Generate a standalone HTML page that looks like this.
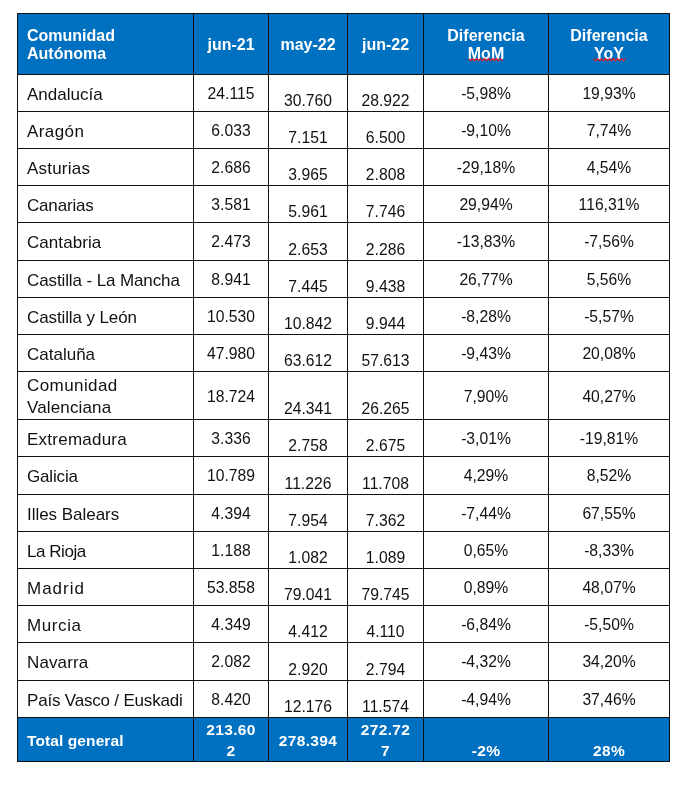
<!DOCTYPE html>
<html lang="es">
<head>
<meta charset="utf-8">
<title>Comunidad Autónoma</title>
<style>
html,body{margin:0;padding:0;background:#fff;}
body{width:690px;height:788px;position:relative;overflow:hidden;font-family:"Liberation Sans",sans-serif;color:#111;}
.a{position:absolute;}
.bg{position:absolute;background:#0070c0;}
.h{position:absolute;background:#111;height:1px;}
.v{position:absolute;background:#111;width:1px;}
.t{position:absolute;white-space:nowrap;font-size:17px;line-height:20px;height:20px;}
.n{position:absolute;white-space:nowrap;font-size:15.7px;line-height:20px;height:20px;text-align:center;}
.c{text-align:center;}
.hd{position:absolute;white-space:nowrap;font-weight:bold;font-size:16px;line-height:18px;color:#fff;}
.ft{position:absolute;white-space:nowrap;font-weight:bold;font-size:15.5px;line-height:21px;color:#fff;}
.fn{letter-spacing:.35px;}
</style>
</head>
<body>

<div class="bg" style="left:17px;top:13px;width:653px;height:61px"></div>
<div class="bg" style="left:17px;top:717px;width:653px;height:44px"></div>
<div class="h" style="left:17px;top:13px;width:653px"></div>
<div class="h" style="left:17px;top:74px;width:653px"></div>
<div class="h" style="left:17px;top:111px;width:653px"></div>
<div class="h" style="left:17px;top:148px;width:653px"></div>
<div class="h" style="left:17px;top:185px;width:653px"></div>
<div class="h" style="left:17px;top:222px;width:653px"></div>
<div class="h" style="left:17px;top:260px;width:653px"></div>
<div class="h" style="left:17px;top:297px;width:653px"></div>
<div class="h" style="left:17px;top:334px;width:653px"></div>
<div class="h" style="left:17px;top:371px;width:653px"></div>
<div class="h" style="left:17px;top:419px;width:653px"></div>
<div class="h" style="left:17px;top:456px;width:653px"></div>
<div class="h" style="left:17px;top:494px;width:653px"></div>
<div class="h" style="left:17px;top:531px;width:653px"></div>
<div class="h" style="left:17px;top:568px;width:653px"></div>
<div class="h" style="left:17px;top:605px;width:653px"></div>
<div class="h" style="left:17px;top:642px;width:653px"></div>
<div class="h" style="left:17px;top:680px;width:653px"></div>
<div class="h" style="left:17px;top:717px;width:653px"></div>
<div class="h" style="left:17px;top:761px;width:653px"></div>
<div class="v" style="left:17px;top:13px;height:749px"></div>
<div class="v" style="left:193px;top:13px;height:749px"></div>
<div class="v" style="left:268px;top:13px;height:749px"></div>
<div class="v" style="left:347px;top:13px;height:749px"></div>
<div class="v" style="left:423px;top:13px;height:749px"></div>
<div class="v" style="left:548px;top:13px;height:749px"></div>
<div class="v" style="left:669px;top:13px;height:749px"></div>
<div class="hd" style="left:27px;top:27px">Comunidad<br>Autónoma</div>
<div class="hd c" style="left:194px;width:74px;top:36px">jun-21</div>
<div class="hd c" style="left:269px;width:78px;top:36px">may-22</div>
<div class="hd c" style="left:348px;width:75px;top:36px">jun-22</div>
<div class="hd c" style="left:424px;width:124px;top:27px">Diferencia<br>MoM</div>
<div class="hd c" style="left:549px;width:120px;top:27px">Diferencia<br>YoY</div>
<svg class="a" style="left:0;top:0" width="690" height="70" viewBox="0 0 690 70"><polyline points="468.5,58.7 470.5,60.7 472.5,58.7 474.5,60.7 476.5,58.7 478.5,60.7 480.5,58.7 482.5,60.7 484.5,58.7 486.5,60.7 488.5,58.7 490.5,60.7 492.5,58.7 494.5,60.7 496.5,58.7 498.5,60.7 500.5,58.7 502.5,60.7" fill="none" stroke="#e0202c" stroke-width="1.25"/></svg>
<svg class="a" style="left:0;top:0" width="690" height="70" viewBox="0 0 690 70"><polyline points="593.5,58.7 595.5,60.7 597.5,58.7 599.5,60.7 601.5,58.7 603.5,60.7 605.5,58.7 607.5,60.7 609.5,58.7 611.5,60.7 613.5,58.7 615.5,60.7 617.5,58.7 619.5,60.7 621.5,58.7 623.5,60.7 625.5,58.7" fill="none" stroke="#e0202c" stroke-width="1.25"/></svg>
<div class="t" style="left:27px;top:85px">Andalucía</div>
<div class="n" style="left:194px;width:74px;top:84px">24.115</div>
<div class="n" style="left:269px;width:78px;top:91px">30.760</div>
<div class="n" style="left:348px;width:75px;top:91px">28.922</div>
<div class="n p" style="left:424px;width:124px;top:84px">-5,98%</div>
<div class="n p" style="left:549px;width:120px;top:84px">19,93%</div>
<div class="t" style="left:27px;top:122px;letter-spacing:0.42px">Aragón</div>
<div class="n" style="left:194px;width:74px;top:121px">6.033</div>
<div class="n" style="left:269px;width:78px;top:128px">7.151</div>
<div class="n" style="left:348px;width:75px;top:128px">6.500</div>
<div class="n p" style="left:424px;width:124px;top:121px">-9,10%</div>
<div class="n p" style="left:549px;width:120px;top:121px">7,74%</div>
<div class="t" style="left:27px;top:159px;letter-spacing:0.21px">Asturias</div>
<div class="n" style="left:194px;width:74px;top:158px">2.686</div>
<div class="n" style="left:269px;width:78px;top:165px">3.965</div>
<div class="n" style="left:348px;width:75px;top:165px">2.808</div>
<div class="n p" style="left:424px;width:124px;top:158px">-29,18%</div>
<div class="n p" style="left:549px;width:120px;top:158px">4,54%</div>
<div class="t" style="left:27px;top:196px;letter-spacing:-0.18px">Canarias</div>
<div class="n" style="left:194px;width:74px;top:195px">3.581</div>
<div class="n" style="left:269px;width:78px;top:202px">5.961</div>
<div class="n" style="left:348px;width:75px;top:202px">7.746</div>
<div class="n p" style="left:424px;width:124px;top:195px">29,94%</div>
<div class="n p" style="left:549px;width:120px;top:195px">116,31%</div>
<div class="t" style="left:27px;top:233px;letter-spacing:0.06px">Cantabria</div>
<div class="n" style="left:194px;width:74px;top:232px">2.473</div>
<div class="n" style="left:269px;width:78px;top:240px">2.653</div>
<div class="n" style="left:348px;width:75px;top:240px">2.286</div>
<div class="n p" style="left:424px;width:124px;top:232px">-13,83%</div>
<div class="n p" style="left:549px;width:120px;top:232px">-7,56%</div>
<div class="t" style="left:27px;top:271px;letter-spacing:-0.11px">Castilla - La Mancha</div>
<div class="n" style="left:194px;width:74px;top:270px">8.941</div>
<div class="n" style="left:269px;width:78px;top:277px">7.445</div>
<div class="n" style="left:348px;width:75px;top:277px">9.438</div>
<div class="n p" style="left:424px;width:124px;top:270px">26,77%</div>
<div class="n p" style="left:549px;width:120px;top:270px">5,56%</div>
<div class="t" style="left:27px;top:308px;letter-spacing:-0.11px">Castilla y León</div>
<div class="n" style="left:194px;width:74px;top:307px">10.530</div>
<div class="n" style="left:269px;width:78px;top:314px">10.842</div>
<div class="n" style="left:348px;width:75px;top:314px">9.944</div>
<div class="n p" style="left:424px;width:124px;top:307px">-8,28%</div>
<div class="n p" style="left:549px;width:120px;top:307px">-5,57%</div>
<div class="t" style="left:27px;top:345px">Cataluña</div>
<div class="n" style="left:194px;width:74px;top:344px">47.980</div>
<div class="n" style="left:269px;width:78px;top:351px">63.612</div>
<div class="n" style="left:348px;width:75px;top:351px">57.613</div>
<div class="n p" style="left:424px;width:124px;top:344px">-9,43%</div>
<div class="n p" style="left:549px;width:120px;top:344px">20,08%</div>
<div class="t" style="left:27px;top:376px;letter-spacing:0.42px">Comunidad</div>
<div class="t" style="left:27px;top:398px;letter-spacing:0.14px">Valenciana</div>
<div class="n" style="left:194px;width:74px;top:387px">18.724</div>
<div class="n" style="left:269px;width:78px;top:399px">24.341</div>
<div class="n" style="left:348px;width:75px;top:399px">26.265</div>
<div class="n p" style="left:424px;width:124px;top:387px">7,90%</div>
<div class="n p" style="left:549px;width:120px;top:387px">40,27%</div>
<div class="t" style="left:27px;top:430px;letter-spacing:0.24px">Extremadura</div>
<div class="n" style="left:194px;width:74px;top:429px">3.336</div>
<div class="n" style="left:269px;width:78px;top:436px">2.758</div>
<div class="n" style="left:348px;width:75px;top:436px">2.675</div>
<div class="n p" style="left:424px;width:124px;top:429px">-3,01%</div>
<div class="n p" style="left:549px;width:120px;top:429px">-19,81%</div>
<div class="t" style="left:27px;top:467px;letter-spacing:-0.17px">Galicia</div>
<div class="n" style="left:194px;width:74px;top:466px">10.789</div>
<div class="n" style="left:269px;width:78px;top:474px">11.226</div>
<div class="n" style="left:348px;width:75px;top:474px">11.708</div>
<div class="n p" style="left:424px;width:124px;top:466px">4,29%</div>
<div class="n p" style="left:549px;width:120px;top:466px">8,52%</div>
<div class="t" style="left:27px;top:505px;letter-spacing:-0.03px">Illes Balears</div>
<div class="n" style="left:194px;width:74px;top:504px">4.394</div>
<div class="n" style="left:269px;width:78px;top:511px">7.954</div>
<div class="n" style="left:348px;width:75px;top:511px">7.362</div>
<div class="n p" style="left:424px;width:124px;top:504px">-7,44%</div>
<div class="n p" style="left:549px;width:120px;top:504px">67,55%</div>
<div class="t" style="left:27px;top:542px;letter-spacing:-0.45px">La Rioja</div>
<div class="n" style="left:194px;width:74px;top:541px">1.188</div>
<div class="n" style="left:269px;width:78px;top:548px">1.082</div>
<div class="n" style="left:348px;width:75px;top:548px">1.089</div>
<div class="n p" style="left:424px;width:124px;top:541px">0,65%</div>
<div class="n p" style="left:549px;width:120px;top:541px">-8,33%</div>
<div class="t" style="left:27px;top:579px;letter-spacing:1.00px">Madrid</div>
<div class="n" style="left:194px;width:74px;top:578px">53.858</div>
<div class="n" style="left:269px;width:78px;top:585px">79.041</div>
<div class="n" style="left:348px;width:75px;top:585px">79.745</div>
<div class="n p" style="left:424px;width:124px;top:578px">0,89%</div>
<div class="n p" style="left:549px;width:120px;top:578px">48,07%</div>
<div class="t" style="left:27px;top:616px;letter-spacing:0.60px">Murcia</div>
<div class="n" style="left:194px;width:74px;top:615px">4.349</div>
<div class="n" style="left:269px;width:78px;top:622px">4.412</div>
<div class="n" style="left:348px;width:75px;top:622px">4.110</div>
<div class="n p" style="left:424px;width:124px;top:615px">-6,84%</div>
<div class="n p" style="left:549px;width:120px;top:615px">-5,50%</div>
<div class="t" style="left:27px;top:653px;letter-spacing:0.11px">Navarra</div>
<div class="n" style="left:194px;width:74px;top:652px">2.082</div>
<div class="n" style="left:269px;width:78px;top:660px">2.920</div>
<div class="n" style="left:348px;width:75px;top:660px">2.794</div>
<div class="n p" style="left:424px;width:124px;top:652px">-4,32%</div>
<div class="n p" style="left:549px;width:120px;top:652px">34,20%</div>
<div class="t" style="left:27px;top:691px;letter-spacing:-0.19px">País Vasco / Euskadi</div>
<div class="n" style="left:194px;width:74px;top:690px">8.420</div>
<div class="n" style="left:269px;width:78px;top:697px">12.176</div>
<div class="n" style="left:348px;width:75px;top:697px">11.574</div>
<div class="n p" style="left:424px;width:124px;top:690px">-4,94%</div>
<div class="n p" style="left:549px;width:120px;top:690px">37,46%</div>
<div class="ft" style="left:27px;top:730px;letter-spacing:.1px">Total general</div>
<div class="ft fn c" style="left:194px;width:74px;top:719px">213.60<br>2</div>
<div class="ft fn c" style="left:269px;width:78px;top:730px">278.394</div>
<div class="ft fn c" style="left:348px;width:75px;top:719px">272.72<br>7</div>
<div class="ft fn c" style="left:424px;width:124px;top:740px">-2%</div>
<div class="ft fn c" style="left:549px;width:120px;top:740px">28%</div>
</body>
</html>
